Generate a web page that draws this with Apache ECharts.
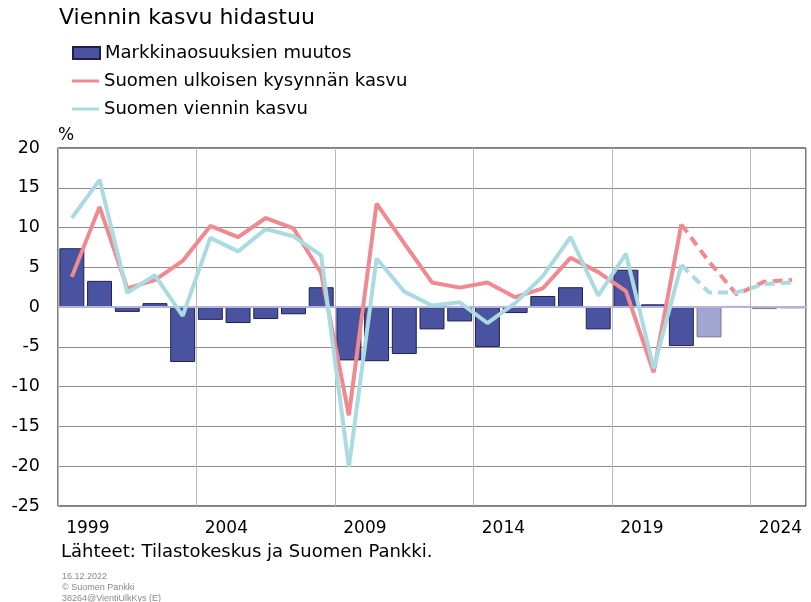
<!DOCTYPE html>
<html>
<head>
<meta charset="utf-8">
<script src="https://cdn.jsdelivr.net/npm/echarts@6/dist/echarts.min.js"></script>
<style>
  html, body { margin: 0; padding: 0; background: #fff; }
  #chart { width: 811px; height: 602px; }
</style>
</head>
<body>
<div id="chart"></div>
<script>
// vuodet 1999-2025, ennuste 2022 alkaen
let years = ['1999', '2000', '2001', '2002', '2003', '2004', '2005', '2006', '2007', '2008',
    '2009', '2010', '2011', '2012', '2013', '2014', '2015', '2016', '2017', '2018',
    '2019', '2020', '2021', '2022', '2023', '2024', '2025']
let marketShare = [7.4, 3.3, -0.6, 0.5, -6.9, -1.6, -2.0, -1.5, -0.9, 2.5,
    -6.7, -6.8, -5.9, -2.8, -1.8, -5.0, -0.75, 1.4, 2.5, -2.8,
    4.7, 0.35, -4.9, -3.8, 0.15, -0.25, -0.15]
let demandGrowth = [3.8, 12.6, 2.35, 3.4, 5.8, 10.2, 8.8, 11.2, 9.9, 4.25,
    -13.6, 13.0, 8.0, 3.1, 2.45, 3.1, 1.25, 2.35, 6.2, 4.4,
    2.0, -8.2, 10.4, 5.7, 1.6, 3.2, 3.4]
let exportGrowth = [11.2, 16.0, 1.8, 4.0, -1.1, 8.7, 7.0, 9.8, 8.9, 6.5,
    -20.1, 6.1, 1.95, 0.2, 0.6, -2.0, 0.5, 3.9, 8.8, 1.45,
    6.7, -7.7, 5.3, 1.85, 1.85, 2.9, 3.1]
let yTicks = [-25, -20, -15, -10, -5, 0, 5, 10, 15, 20]
let lastActual = 22   // 2021
let firstForecastBar = 23  // 2022

const FONT = '"DejaVu Sans", Verdana, sans-serif'
const SMALL_FONT = '"Liberation Sans Narrow", "Liberation Sans", Arial, sans-serif'
const NAMES = ['Markkinaosuuksien muutos', 'Suomen ulkoisen kysynnän kasvu', 'Suomen viennin kasvu']

let solidPart = (arr) => arr.map((v, i) => i <= lastActual ? v : null)
let dashedPart = (arr) => arr.map((v, i) => i >= lastActual ? v : null)

let barData = marketShare.map((v, i) => {
    if (i < firstForecastBar) return v
    return { value: v, itemStyle: { color: '#a2a6d2', borderColor: '#7a7a8a' } }
})

let legendText = { fontFamily: FONT, fontSize: 18, color: '#000', lineHeight: 20 }

let mychart = echarts.init(document.getElementById('chart'))
let options = {
    animation: false,
    textStyle: { fontFamily: FONT },
    grid: {
        left: 58, right: 5, top: 148, bottom: 96,
        show: true, borderColor: '#000', borderWidth: 1,
        containLabel: false
    },
    legend: [
        {
            left: 72, top: 43, padding: 0,
            itemWidth: 27, itemHeight: 12,
            textStyle: legendText,
            data: [{ name: NAMES[0], icon: 'rect' }]
        },
        {
            orient: 'vertical',
            left: 72, top: 71, padding: 0,
            itemWidth: 27, itemHeight: 3, itemGap: 8,
            icon: 'rect',
            textStyle: legendText,
            data: [NAMES[1], NAMES[2]]
        }
    ],
    xAxis: {
        type: 'category',
        data: years,
        boundaryGap: true,
        axisLine: { show: false, onZero: false },
        axisTick: { show: false },
        axisLabel: {
            interval: 4,
            margin: 14,
            fontFamily: FONT,
            fontSize: 17,
            color: '#000',
            padding: [0, 0, 0, 32]
        },
        splitLine: {
            show: true,
            interval: 4,
            lineStyle: { color: '#b8b8b8', width: 1 }
        }
    },
    yAxis: {
        type: 'value',
        min: yTicks[0],
        max: yTicks[yTicks.length - 1],
        interval: 5,
        axisLine: { show: false },
        axisTick: { show: false },
        axisLabel: { margin: 18, fontFamily: FONT, fontSize: 17.5, color: '#000' },
        splitLine: { lineStyle: { color: '#8c8c8c', width: 1 } }
    },
    series: [
        {
            name: NAMES[0],
            type: 'bar',
            data: barData,
            barCategoryGap: '10%',
            itemStyle: { color: '#4a539f', borderColor: '#1e2050', borderWidth: 1 },
            markLine: {
                silent: true,
                symbol: 'none',
                label: { show: false },
                lineStyle: { color: '#b4b4dc', type: 'solid', width: 2 },
                data: [{ yAxis: 0 }],
                z: 3
            },
            z: 2
        },
        {
            name: NAMES[1],
            type: 'line',
            data: solidPart(demandGrowth),
            symbol: 'none',
            lineStyle: { color: '#f08a90', width: 4 },
            itemStyle: { color: '#f08a90' },
            z: 5
        },
        {
            name: NAMES[2],
            type: 'line',
            data: solidPart(exportGrowth),
            symbol: 'none',
            lineStyle: { color: '#a9dbe0', width: 4 },
            itemStyle: { color: '#a9dbe0' },
            z: 6
        },
        {
            name: NAMES[1],
            type: 'line',
            data: dashedPart(demandGrowth),
            symbol: 'none',
            lineStyle: { color: '#f08a90', width: 4, type: [10, 6] },
            itemStyle: { color: '#f08a90' },
            z: 5
        },
        {
            name: NAMES[2],
            type: 'line',
            data: dashedPart(exportGrowth),
            symbol: 'none',
            lineStyle: { color: '#a9dbe0', width: 4, type: [10, 6] },
            itemStyle: { color: '#a9dbe0' },
            z: 6
        }
    ],
    graphic: [
        { type: 'text', left: 59, top: 7, style: { text: 'Viennin kasvu hidastuu', font: '22px ' + FONT, fill: '#000' } },
        { type: 'text', left: 58, top: 127, style: { text: '%', font: '17px ' + FONT, fill: '#000' } },
        { type: 'text', left: 61, top: 543, style: { text: 'Lähteet: Tilastokeskus ja Suomen Pankki.', font: '18px ' + FONT, fill: '#000' } },
        { type: 'text', left: 62, top: 572, style: { text: '16.12.2022', font: '9px ' + SMALL_FONT, fill: '#8a8a8a' } },
        { type: 'text', left: 62, top: 583, style: { text: '© Suomen Pankki', font: '9px ' + SMALL_FONT, fill: '#8a8a8a' } },
        { type: 'text', left: 62, top: 594, style: { text: '38264@VientiUlkKys (E)', font: '9px ' + SMALL_FONT, fill: '#8a8a8a' } }
    ]
}
mychart.setOption(options)
</script>
</body>
</html>
